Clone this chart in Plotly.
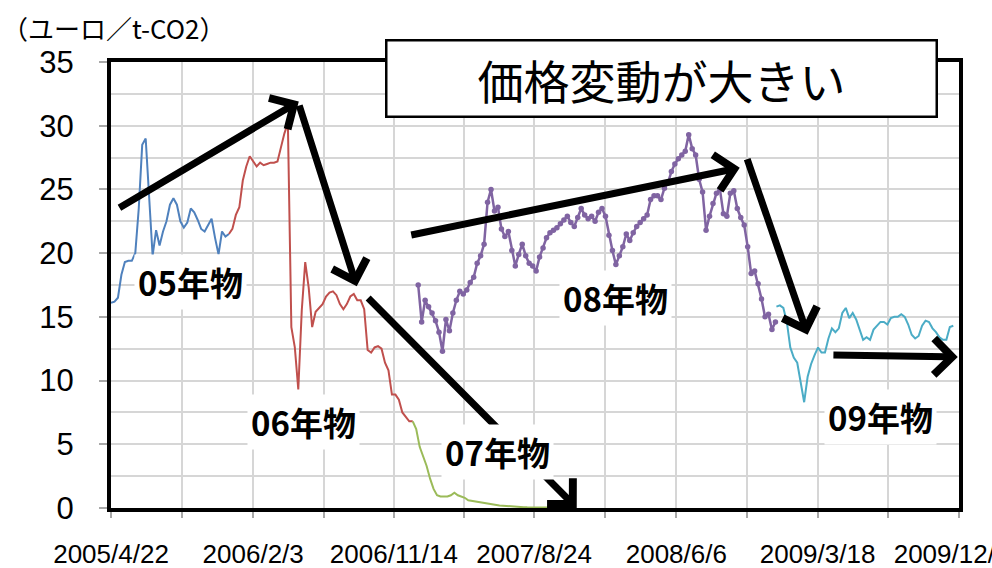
import pandas as pd
import plotly.graph_objects as go

# ---------------------------------------------------------------------------
# EU allowance prices (EUR / t-CO2), weekly samples per contract vintage
# ---------------------------------------------------------------------------
VINTAGES = ["05年物", "06年物", "07年物", "08年物", "09年物"]

START_05 = "2005-04-22"
PRICE_05 = [16.1, 16.2, 16.5, 18.3, 19.3, 19.4, 19.4, 20.0, 23.5, 28.5,
            29.0, 24.5, 19.8, 21.8, 20.6, 21.7, 22.5, 23.8, 24.3, 23.8,
            22.5, 22.0, 22.4, 23.5, 23.2, 22.6, 21.9, 21.7, 22.2, 22.7,
            21.2, 19.9, 21.7, 21.3, 21.5]

START_06 = "2005-12-16"
PRICE_06 = [21.5, 21.9, 23.0, 23.6, 25.7, 26.8, 27.6, 27.2, 26.8, 27.1,
            26.9, 27.0, 27.1, 27.1, 27.2, 28.3, 29.4, 30.2, 14.2, 12.6,
            9.3, 15.5, 19.3, 17.3, 14.2, 15.4, 15.7, 16.0, 16.6, 16.9,
            17.0, 16.7, 16.0, 15.6, 16.0, 16.6, 16.8, 16.3, 16.3, 15.6,
            12.4, 12.2, 12.6, 12.7, 12.5, 11.4, 10.8, 8.9, 8.9, 8.5,
            7.5, 7.1, 6.8, 6.8]

START_07 = "2006-12-22"
PRICE_07 = [6.8, 6.2, 4.8, 4.1, 3.3, 2.3, 1.5, 1.0, 0.9, 0.9,
            0.9, 1.0, 1.2, 1.0, 0.9, 0.8, 0.6, 0.55, 0.5, 0.45,
            0.4, 0.35, 0.3, 0.28, 0.25, 0.2, 0.18, 0.15, 0.12, 0.1,
            0.08, 0.07, 0.06, 0.05, 0.05, 0.04, 0.04, 0.03, 0.03, 0.03,
            0.02, 0.02, 0.02, 0.02, 0.02, 0.02, 0.02, 0.02]

START_08 = "2007-01-02"
PRICE_08 = [17.5, 14.6, 16.3, 15.8, 15.3, 14.7, 13.8, 12.3, 14.8, 13.9,
            15.3, 16.3, 17.0, 16.8, 17.1, 17.7, 18.1, 19.2, 19.8, 20.7,
            24.0, 25.0, 23.3, 23.6, 21.9, 21.3, 21.7, 20.2, 19.0, 19.9,
            20.7, 19.8, 19.2, 19.0, 18.6, 19.7, 20.4, 21.2, 21.6, 21.8,
            22.0, 22.3, 22.6, 22.9, 22.4, 22.1, 22.8, 23.5, 23.0, 22.7,
            22.9, 22.5, 23.2, 23.5, 22.9, 21.4, 20.2, 19.1, 19.8, 20.5,
            21.5, 21.0, 21.6, 22.1, 22.4, 22.7, 23.0, 24.2, 24.5, 24.5,
            24.2, 25.1, 25.5, 26.4, 27.0, 27.4, 27.7, 28.0, 29.3, 28.2,
            27.7, 25.8, 24.8, 21.8, 22.9, 23.9, 24.7, 25.0, 23.1, 22.9,
            24.7, 24.9, 23.5, 22.8, 22.2, 20.5, 18.4, 18.6, 17.6, 16.4,
            15.0, 15.2, 14.0, 14.6]

START_09 = "2008-12-25"
PRICE_09 = [15.8, 15.9, 15.7, 14.6, 12.6, 11.8, 11.4, 9.8, 8.3, 10.3,
            11.3, 12.0, 12.6, 12.2, 12.2, 13.3, 14.1, 13.8, 14.1, 15.3,
            15.7, 14.9, 15.3, 14.8, 14.0, 13.2, 13.4, 13.2, 14.0, 14.3,
            14.6, 14.6, 14.4, 14.9, 15.0, 15.0, 15.2, 15.0, 14.4, 13.6,
            13.3, 13.5, 14.3, 14.7, 14.6, 14.1, 13.8, 13.4, 13.2, 13.2,
            14.2, 14.3]

# labelled dates on the horizontal axis
TICK_DATES = ["2005-04-22", "2006-02-03", "2006-11-14", "2007-08-24",
              "2008-06-06", "2009-03-18", "2009-12-28"]
TICK_LABELS = ["2005/4/22", "2006/2/3", "2006/11/14", "2007/8/24",
               "2008/6/6", "2009/3/18", "2009/12/28"]

Y_TICKS = [0, 5, 10, 15, 20, 25, 30, 35]
UNIT_LABEL = "（ユーロ／t-CO2）"
HEADLINE = "価格変動が大きい"

# ---------------------------------------------------------------------------
# geometry helpers
# ---------------------------------------------------------------------------
FIG_W, FIG_H = 992, 568
MARGIN = dict(l=111, r=33, t=62, b=60)
PLOT_W = FIG_W - MARGIN["l"] - MARGIN["r"]
PLOT_H = FIG_H - MARGIN["t"] - MARGIN["b"]


def paper_x(px):
    return (px - MARGIN["l"]) / PLOT_W


def paper_y(py):
    return (FIG_H - MARGIN["b"] - py) / PLOT_H


JP_FONT = "Noto Sans CJK JP, Noto Sans, sans-serif"
NUM_FONT = "Liberation Sans, Arial, sans-serif"
GRID = "#d6d6d6"

series = [
    (START_05, PRICE_05, "#4F81BD", False),
    (START_06, PRICE_06, "#C0504D", False),
    (START_07, PRICE_07, "#9BBB59", False),
    (START_08, PRICE_08, "#8064A2", True),
    (START_09, PRICE_09, "#4BACC6", False),
]

fig = go.Figure()
for name, (start, prices, color, dotted) in zip(VINTAGES, series):
    dates = pd.date_range(start, periods=len(prices), freq="7D")
    fig.add_trace(go.Scatter(
        x=dates, y=prices, name=name,
        mode="lines+markers" if dotted else "lines",
        line=dict(color=color, width=2.5 if dotted else 2),
        marker=dict(size=5.5, color=color),
        showlegend=False,
    ))

# gridlines every half step between the labelled dates
tick_ts = pd.to_datetime(TICK_DATES)
grid_vals, grid_text = [], []
for i, t in enumerate(tick_ts):
    grid_vals.append(t)
    grid_text.append(TICK_LABELS[i])
    if i + 1 < len(tick_ts):
        grid_vals.append(t + (tick_ts[i + 1] - t) / 2)
        grid_text.append("")

fig.update_xaxes(
    type="date",
    range=[tick_ts[0], tick_ts[-1] + pd.Timedelta(hours=12)],
    tickvals=grid_vals, ticktext=grid_text, tickangle=0,
    ticklabeloverflow="allow",
    showgrid=True, gridcolor=GRID, gridwidth=1.5,
    ticks="outside", ticklen=6, tickwidth=1.5, tickcolor="#a8a8a8",
    ticklabelstandoff=14,
    tickfont=dict(family=NUM_FONT, size=26, color="black"),
    showline=True, linecolor="black", linewidth=4, mirror=True,
    zeroline=False, automargin=False,
)
fig.update_yaxes(
    range=[0, 35], tickvals=Y_TICKS,
    showgrid=True, gridcolor=GRID, gridwidth=1.5,
    minor=dict(dtick=2.5, showgrid=True, gridcolor=GRID, gridwidth=1.5),
    ticks="outside", ticklen=8, tickwidth=1.5, tickcolor="#a8a8a8",
    ticklabelstandoff=19,
    tickfont=dict(family=NUM_FONT, size=31, color="black"),
    showline=True, linecolor="black", linewidth=4, mirror=True,
    zeroline=False, automargin=False,
)

annotations = []

# trend arrows: (tail date, tail value, head date, head value)
ARROWS = [
    ("2005-05-06", 23.5, "2006-05-06", 31.9),
    ("2006-05-06", 31.7, "2006-08-31", 17.4),
    ("2006-09-20", 16.6, "2007-11-18", 0.0),
    ("2006-12-16", 21.4, "2008-10-12", 26.7),
    ("2008-10-26", 27.5, "2009-02-26", 13.6),
    ("2009-04-16", 12.0, "2009-12-26", 11.85),
]
for tx, ty, hx, hy in ARROWS:
    annotations.append(dict(
        x=hx, y=hy, ax=tx, ay=ty,
        xref="x", yref="y", axref="x", ayref="y",
        text="", showarrow=True, arrowhead=4, arrowsize=1,
        arrowwidth=7, arrowcolor="black", standoff=0, startstandoff=0,
    ))

# vintage labels (pixel centres)
LABEL_POS = [(190, 282), (303, 422), (497, 452), (615, 298), (880, 417)]
for text, (px, py) in zip(VINTAGES, LABEL_POS):
    annotations.append(dict(
        x=paper_x(px), y=paper_y(py), xref="paper", yref="paper",
        text=f"<b>{text}</b>", showarrow=False,
        font=dict(family=JP_FONT, size=33, color="black"),
        bgcolor="white", borderpad=3,
        xanchor="center", yanchor="middle",
    ))

# headline box
annotations.append(dict(
    x=paper_x(661), y=paper_y(78), xref="paper", yref="paper",
    text=HEADLINE, showarrow=False,
    font=dict(family=JP_FONT, size=46, color="black"),
    bgcolor="white", bordercolor="black", borderwidth=2.5, borderpad=0,
    width=548, height=74, align="center", valign="middle",
    xanchor="center", yanchor="middle",
))

# unit label
annotations.append(dict(
    x=paper_x(0), y=paper_y(27), xref="paper", yref="paper",
    text=UNIT_LABEL, showarrow=False,
    font=dict(family=JP_FONT, size=26, color="black"),
    xanchor="left", yanchor="middle",
))

fig.update_layout(
    width=FIG_W, height=FIG_H,
    margin=MARGIN,
    paper_bgcolor="white", plot_bgcolor="white",
    annotations=annotations,
    showlegend=False,
)

fig.write_html("out.html")
